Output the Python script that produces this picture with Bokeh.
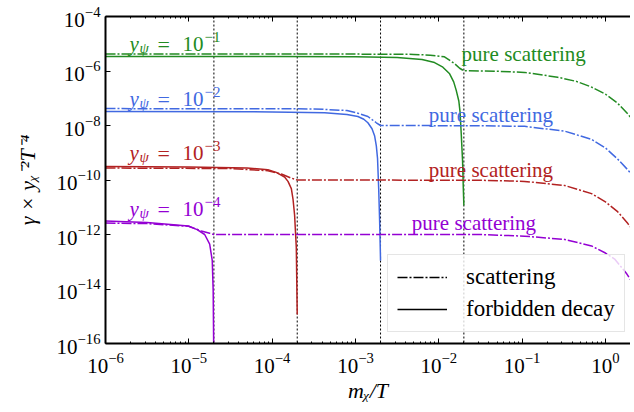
from bokeh.plotting import figure
from bokeh.models import (LogAxis, FixedTicker, Span, Label, CustomJSTickFormatter,
                          Legend, LegendItem, Range1d, Spacer)
from bokeh.layouts import row
from bokeh.embed import file_html
from bokeh.resources import INLINE

# ---------------- data ----------------
x_ticks = [1e-6, 1e-5, 1e-4, 1e-3, 1e-2, 1e-1, 1e0]
y_ticks = [1e-16, 1e-14, 1e-12, 1e-10, 1e-8, 1e-6, 1e-4]
thresholds = [2e-5, 2e-4, 2e-3, 2e-2]
exponents = ["\u22121", "\u22122", "\u22123", "\u22124"]
colors = ["#228b22", "#4169e1", "#b22222", "#9400d3"]

green_decay_x = [1e-6, 1e-4, 1e-3, 3.16e-3, 6.3e-3, 8.9e-3, 1.12e-2, 1.35e-2, 1.51e-2,
                 1.62e-2, 1.74e-2, 1.80e-2, 1.86e-2, 1.93e-2, 1.97e-2, 2.0e-2]
green_decay_y = [3.39e-6, 3.39e-6, 3.31e-6, 3.16e-6, 2.63e-6, 2.04e-6, 1.38e-6, 7.9e-7, 4.0e-7,
                 1.95e-7, 7.9e-8, 3.16e-8, 5.0e-9, 5.0e-10, 5.0e-11, 1.17e-11]
green_scat_x = [1e-6, 1e-3, 5.0e-3, 7.9e-3, 1.17e-2, 1.55e-2, 1.78e-2, 2.0e-2, 5.0e-2,
                0.107, 0.267, 0.447, 0.682, 1.0, 1.40, 1.86, 2.44]
green_scat_y = [4.17e-6, 4.17e-6, 4.07e-6, 3.80e-6, 3.31e-6, 1.86e-6, 1.26e-6, 1.02e-6, 9.8e-7,
                8.9e-7, 5.9e-7, 4.17e-7, 2.57e-7, 1.41e-7, 6.6e-8, 2.63e-8, 9.3e-9]

blue_decay_x = [1e-6, 1e-4, 4.27e-4, 7.9e-4, 1.07e-3, 1.26e-3, 1.41e-3, 1.58e-3, 1.70e-3,
                1.78e-3, 1.84e-3, 1.90e-3, 1.95e-3, 2.0e-3]
blue_decay_y = [3.24e-8, 3.16e-8, 2.95e-8, 2.51e-8, 2.14e-8, 1.70e-8, 1.26e-8, 7.6e-9, 4.1e-9,
                1.78e-9, 6.3e-10, 5.0e-11, 3.2e-12, 1.1e-13]
blue_scat_x = [1e-6, 3.16e-4, 7.9e-4, 1.07e-3, 1.41e-3, 1.78e-3, 2.0e-3, 3.16e-2, 0.107,
               0.324, 0.682, 1.0, 1.40, 1.86, 2.44]
blue_scat_y = [4.17e-8, 4.07e-8, 3.55e-8, 2.82e-8, 2.14e-8, 1.26e-8, 1.0e-8, 9.8e-9, 9.3e-9,
               6.2e-9, 3.09e-9, 1.51e-9, 5.9e-10, 2.34e-10, 8.5e-11]

red_decay_x = [1e-6, 1e-5, 5.0e-5, 8.9e-5, 1.12e-4, 1.41e-4, 1.55e-4, 1.70e-4, 1.78e-4,
               1.86e-4, 1.95e-4, 2.0e-4]
red_decay_y = [3.16e-10, 3.02e-10, 2.75e-10, 2.40e-10, 1.91e-10, 1.29e-10, 8.9e-11, 4.8e-11,
               2.0e-11, 5.2e-12, 3.3e-13, 1.15e-15]
red_scat_x = [1e-6, 3.16e-5, 8.9e-5, 1.29e-4, 1.66e-4, 2.0e-4, 3.16e-2, 0.107, 0.324, 0.682,
              1.0, 1.40, 1.86, 2.44]
red_scat_y = [2.75e-10, 2.63e-10, 2.19e-10, 1.66e-10, 1.20e-10, 1.0e-10, 9.8e-11, 8.9e-11,
              6.3e-11, 3.16e-11, 1.58e-11, 6.9e-12, 2.51e-12, 8.7e-13]

purple_decay_x = [1e-6, 3.16e-6, 9.8e-6, 1.26e-5, 1.55e-5, 1.78e-5, 1.91e-5, 1.96e-5, 2.0e-5]
purple_decay_y = [3.16e-12, 2.75e-12, 2.04e-12, 1.51e-12, 1.0e-12, 4.4e-13, 1.12e-13, 9.1e-15, 1e-17]
purple_scat_x = [1e-6, 3.16e-6, 1.0e-5, 1.41e-5, 1.78e-5, 2.0e-5, 3.16e-2, 0.107, 0.324, 0.682,
                 1.0, 1.29, 1.78, 2.44]
purple_scat_y = [2.63e-12, 2.51e-12, 2.0e-12, 1.35e-12, 1.12e-12, 1.0e-12, 1.0e-12, 8.7e-13,
                 6.6e-13, 3.8e-13, 2.09e-13, 1.26e-13, 3.8e-14, 8.9e-15]

decay_x = [green_decay_x, blue_decay_x, red_decay_x, purple_decay_x]
decay_y = [green_decay_y, blue_decay_y, red_decay_y, purple_decay_y]
scat_x = [green_scat_x, blue_scat_x, red_scat_x, purple_scat_x]
scat_y = [green_scat_y, blue_scat_y, red_scat_y, purple_scat_y]

# label anchor positions (data coords)
coupling_label_pos = [(1.94e-6, 9.5e-6), (1.94e-6, 9.1e-8), (1.94e-6, 9.5e-10), (1.94e-6, 8.3e-12)]
pure_label_pos = [(1.88e-2, 4.3e-6), (7.6e-3, 2.45e-8), (7.6e-3, 2.3e-10), (4.75e-3, 2.57e-12)]

FONT = "Liberation Serif"
DASHDOT = "10 2 2 2"

p = figure(frame_width=525, frame_height=327, x_axis_type="log", y_axis_type="log",
           x_range=Range1d(1e-6, 2.0), y_range=Range1d(1e-16, 1e-4),
           output_backend="svg", toolbar_location=None, min_border=0)
p.outline_line_color = None
p.xgrid.visible = False
p.ygrid.visible = False
p.background_fill_color = "white"

x_minor = [m * 10.0 ** e for e in range(-6, 1) for m in range(2, 10)]

def style_axis(ax):
    ax.axis_line_width = 2
    ax.axis_line_color = "black"
    ax.major_tick_in = 5
    ax.major_tick_out = 0
    ax.minor_tick_in = 2
    ax.minor_tick_out = 0
    ax.major_tick_line_color = "black"
    ax.minor_tick_line_color = "black"
    ax.major_label_text_font = FONT
    ax.major_label_text_font_size = "21px"
    ax.major_label_text_color = "black"
    ax.axis_label_text_font = FONT
    ax.axis_label_text_font_size = "22px"
    ax.axis_label_text_font_style = "italic"
    ax.axis_label_text_color = "black"

xax = p.xaxis[0]
xax.ticker = FixedTicker(ticks=x_ticks, minor_ticks=x_minor)
style_axis(xax)
xax.axis_label = "m\u1d6a/T"
xax.major_label_standoff = 9
xax.axis_label_standoff = 2

yax = p.yaxis[0]
yax.ticker = FixedTicker(ticks=y_ticks, minor_ticks=[])
style_axis(yax)
yax.axis_label = "\u03b3 \u00d7 y\u1d6a\u207b\u00b2T\u207b\u2074"
yax.major_label_standoff = 5
yax.axis_label_standoff = 14

# top axis: ticks only; its label standoff reserves room above the frame for the 10^-4 label
top = LogAxis(ticker=FixedTicker(ticks=x_ticks, minor_ticks=x_minor),
              formatter=CustomJSTickFormatter(code="return ' '"))
style_axis(top)
top.major_label_text_font_size = "1px"
top.major_label_standoff = 12
p.add_layout(top, "above")

for t in thresholds:
    p.add_layout(Span(location=t, dimension="height", line_color="black",
                      line_width=1, line_dash="2 2", level="underlay"))

for i in range(4):
    p.line(scat_x[i], scat_y[i], line_color=colors[i], line_width=1.5, line_dash=DASHDOT)
    p.line(decay_x[i], decay_y[i], line_color=colors[i], line_width=1.5)

# coupling labels: y_psi = 10^-n
for i in range(4):
    lx, ly = coupling_label_pos[i]
    c = colors[i]
    parts = [("y", 0, 0, "21px", "italic"), ("\u03c8", 10, -4, "15px", "italic"),
             ("=", 28, 0, "22px", "normal"), ("10", 53, 0, "21px", "normal"),
             (exponents[i], 75, 7, "15px", "normal")]
    for txt, dx, dy, fs, st in parts:
        p.add_layout(Label(x=lx, y=ly, x_offset=dx, y_offset=dy, text=txt, text_color=c,
                           text_font=FONT, text_font_size=fs, text_font_style=st,
                           text_baseline="alphabetic", text_align="left"))
    px, py = pure_label_pos[i]
    p.add_layout(Label(x=px, y=py, text="pure scattering", text_color=c, text_font=FONT,
                       text_font_size="21px", text_baseline="alphabetic", text_align="left"))

# legend (hidden black proxies carrying real series data)
r_scat = p.line(green_scat_x, green_scat_y, line_color="black", line_width=1.5,
                line_dash=DASHDOT, visible=False)
r_dec = p.line(green_decay_x, green_decay_y, line_color="black", line_width=1.5, visible=False)
legend = Legend(items=[LegendItem(label="scattering", renderers=[r_scat]),
                       LegendItem(label="forbidden decay", renderers=[r_dec])],
                location=(282, 11))
legend.label_text_font = FONT
legend.label_text_font_size = "23px"
legend.label_text_color = "black"
legend.glyph_width = 50
legend.glyph_height = 24
legend.label_height = 24
legend.label_standoff = 19
legend.spacing = 6
legend.padding = 9
legend.margin = 0
legend.border_line_color = "#cccccc"
legend.border_line_width = 1
legend.background_fill_alpha = 0.8
p.add_layout(legend, "center")

layout = row(Spacer(width=11), p)
open("out.html", "w").write(file_html(layout, INLINE))
